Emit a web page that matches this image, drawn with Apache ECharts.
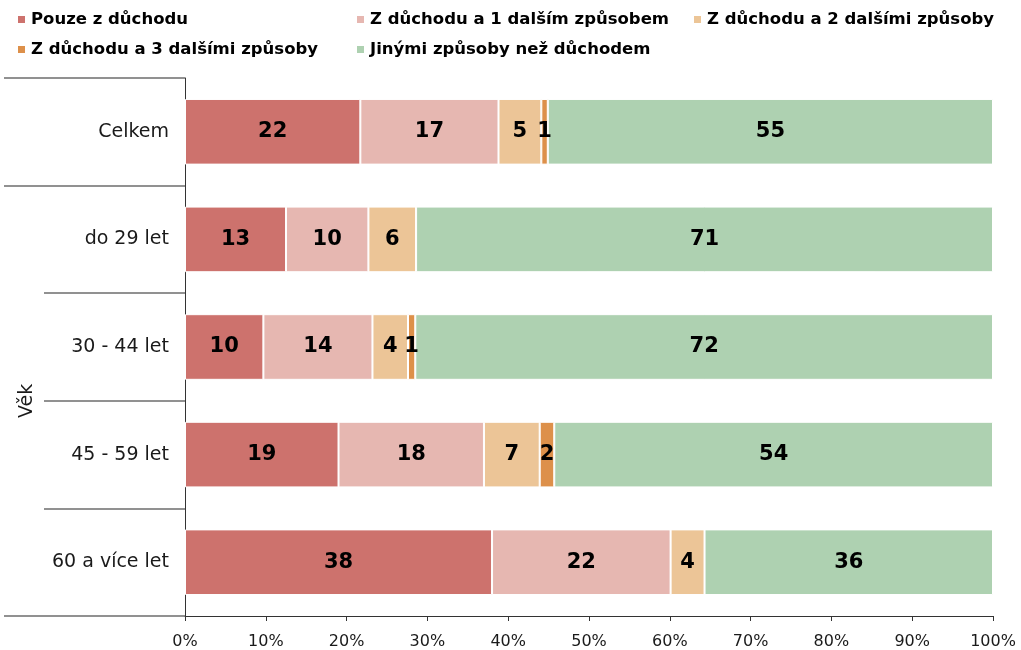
<!DOCTYPE html>
<html><head><meta charset="utf-8">
<script src="https://cdn.jsdelivr.net/npm/echarts@6/dist/echarts.min.js"></script>
<style>html,body{margin:0;padding:0;background:#fff}#c{width:1021px;height:650px}</style>
</head><body><div id="c"></div>
<script>
const categories = ['Celkem', 'do 29 let', '30 - 44 let', '45 - 59 let', '60 a více let'];
const seriesNames = ['Pouze z důchodu', 'Z důchodu a 1 dalším způsobem', 'Z důchodu a 2 dalšími způsoby', 'Z důchodu a 3 dalšími způsoby', 'Jinými způsoby než důchodem'];
const pouze = [21.7, 12.5, 9.7, 19.0, 38.0];
const jeden = [17.1, 10.2, 13.5, 18.0, 22.1];
const dva = [5.3, 5.9, 4.4, 6.9, 4.2];
const tri = [0.8, 0, 0.9, 1.8, 0];
const jine = [55.1, 71.4, 71.5, 54.3, 35.7];
const xTicks = [0, 10, 20, 30, 40, 50, 60, 70, 80, 90, 100];
const groupName = 'Věk';
const colors = ['#cd726d', '#e6b7b1', '#ecc597', '#dd904a', '#aed1b1'];
const values = [pouze, jeden, dva, tri, jine];

const FONT = 'DejaVu Sans';
const chart = echarts.init(document.getElementById('c'));
const legendText = {fontFamily: FONT, fontWeight: 'bold', fontSize: 16.5, color: '#000', lineHeight: 16};
function mkLegend(names, left) {
  return {orient: 'vertical', left: left, top: 11, itemWidth: 9, itemHeight: 9, itemGap: 13,
    icon: 'rect', textStyle: legendText, data: names, selectedMode: false, padding: 0};
}
const option = {
  animation: false,
  color: colors,
  legend: [
    mkLegend([seriesNames[0], seriesNames[3]], 16),
    mkLegend([seriesNames[1], seriesNames[4]], 355),
    mkLegend([seriesNames[2]], 692)
  ],
  grid: {left: 185, right: 28, top: 78, bottom: 33, containLabel: false},
  xAxis: {
    type: 'value', min: xTicks[0], max: xTicks[xTicks.length - 1], interval: 10,
    axisLine: {show: true, lineStyle: {color: '#333', width: 1}},
    axisTick: {show: true, length: 5, lineStyle: {color: '#333'}},
    splitLine: {show: false},
    axisLabel: {formatter: '{value}%', fontFamily: FONT, fontSize: 16, color: '#1a1a1a', margin: 18}
  },
  yAxis: [{
    type: 'category', data: categories, inverse: true,
    axisLine: {show: true, lineStyle: {color: '#333', width: 1}},
    axisTick: {show: true, length: 141, lineStyle: {color: '#6e6e6e', width: 1.5}, interval: 0},
    axisLabel: {fontFamily: FONT, fontSize: 19, color: '#1a1a1a', margin: 16, interval: 0, padding: [5, 0, 0, 0]}
  }, {
    type: 'category', data: categories, inverse: true, position: 'left', gridIndex: 0,
    axisLine: {show: false},
    axisTick: {show: true, length: 181, lineStyle: {color: '#6e6e6e', width: 1.5},
      interval: function (idx) { return idx === 0 || idx === 1; }},
    axisLabel: {show: false}
  }],
  series: values.map((v, i) => ({
    name: seriesNames[i], type: 'bar', stack: 'all', data: v, barWidth: '61%',
    itemStyle: {color: colors[i], borderColor: '#fff', borderWidth: 1},
    label: {show: true, position: 'inside', fontFamily: FONT, fontWeight: 'bold', fontSize: 21, color: '#000',
      formatter: p => p.value > 0 ? String(Math.round(p.value)) : ''}
  }))
};
chart.setOption(option);
const yTop = chart.convertToPixel({yAxisIndex: 0}, categories[1]);
const yBot = chart.convertToPixel({yAxisIndex: 0}, categories[categories.length - 1]);
chart.setOption({graphic: [{
  type: 'text', x: 27, y: (yTop + yBot) / 2, rotation: Math.PI / 2,
  style: {text: groupName, fontFamily: FONT, fontSize: 19, fill: '#1a1a1a', align: 'center', verticalAlign: 'middle'}
}]});
</script></body></html>
